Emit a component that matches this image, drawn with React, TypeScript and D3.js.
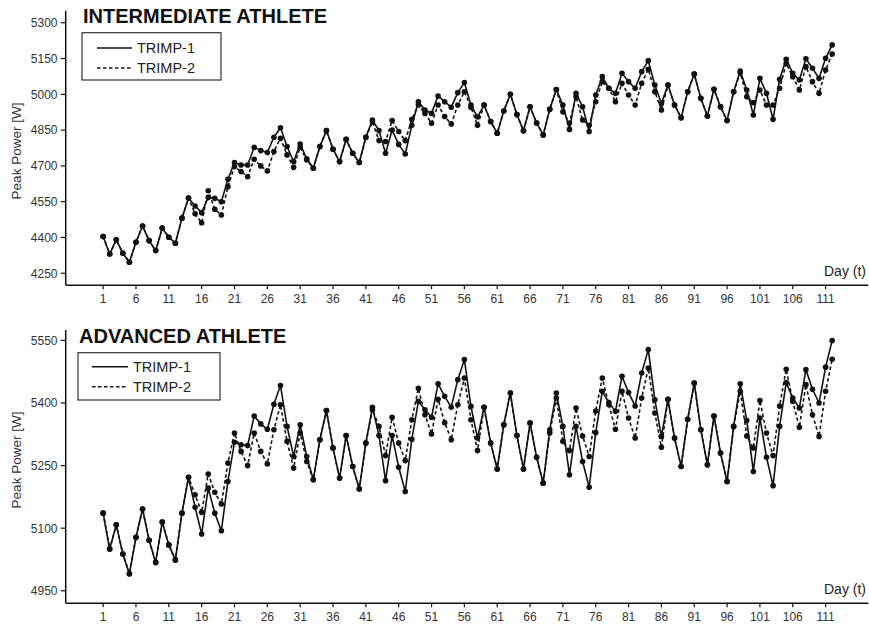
import React from 'react';
import * as d3 from 'd3';

// ---------------- DATA ----------------
const intermediateTrimp1 = [
  4404, 4331, 4390, 4334, 4296, 4380, 4448, 4387, 4345, 4439,
  4401, 4376, 4481, 4565, 4532, 4504, 4568, 4564, 4550, 4644,
  4714, 4704, 4704, 4778, 4764, 4756, 4820, 4860, 4781, 4718,
  4792, 4730, 4690, 4781, 4848, 4770, 4718, 4811, 4753, 4714,
  4820, 4892, 4848, 4753, 4850, 4790, 4750, 4870, 4969, 4934,
  4920, 4993, 4969, 4946, 5007, 5049, 4955, 4905, 4955, 4886,
  4837, 4930, 5000, 4915, 4847, 4948, 4880, 4830, 4937, 5020,
  4955, 4853, 5004, 4948, 4844, 4997, 5074, 5025, 5004, 5088,
  5053, 5025, 5095, 5141, 5039, 4962, 5039, 4955, 4902, 5011,
  5085, 4983, 4909, 5021, 4948, 4890, 5011, 5098, 5018, 4913,
  5067, 5004, 4895, 5063, 5147, 5088, 5060, 5149, 5109, 5067,
  5151, 5207,
];
const intermediateTrimp2 = [
  4404, 4331, 4390, 4334, 4296, 4380, 4448, 4387, 4345, 4439,
  4401, 4376, 4481, 4565, 4499, 4462, 4596, 4518, 4494, 4613,
  4697, 4676, 4655, 4728, 4700, 4679, 4760, 4816, 4746, 4694,
  4778, 4725, 4690, 4781, 4848, 4770, 4718, 4811, 4753, 4714,
  4820, 4885, 4806, 4802, 4890, 4844, 4806, 4895, 4955, 4920,
  4879, 4955, 4907, 4876, 4955, 5011, 4946, 4870, 4955, 4886,
  4837, 4930, 5000, 4915, 4847, 4948, 4880, 4830, 4937, 5020,
  4927, 4880, 4990, 4892, 4870, 4969, 5053, 5025, 4969, 5046,
  4997, 4955, 5046, 5105, 5011, 4934, 5039, 4955, 4902, 5011,
  5085, 4983, 4909, 5021, 4948, 4890, 5011, 5090, 4990, 4965,
  5018, 4955, 4955, 5025, 5130, 5074, 5018, 5116, 5053, 5004,
  5102, 5169,
];
const advancedTrimp1 = [
  5136, 5050, 5108, 5038, 4991, 5078, 5146, 5071, 5018, 5115,
  5060, 5024, 5136, 5222, 5150, 5086, 5196, 5136, 5094, 5212,
  5306, 5300, 5298, 5369, 5350, 5337, 5397, 5442, 5344, 5272,
  5348, 5272, 5216, 5312, 5382, 5292, 5220, 5322, 5248, 5194,
  5304, 5390, 5322, 5214, 5322, 5246, 5188, 5313, 5404, 5384,
  5366, 5446, 5416, 5390, 5456, 5504, 5392, 5316, 5390, 5304,
  5242, 5348, 5424, 5322, 5242, 5352, 5270, 5208, 5336, 5424,
  5344, 5228, 5344, 5260, 5198, 5329, 5428, 5401, 5380, 5464,
  5425, 5393, 5472, 5528, 5408, 5320, 5409, 5316, 5248, 5361,
  5448, 5336, 5252, 5369, 5280, 5212, 5344, 5446, 5358, 5236,
  5364, 5270, 5202, 5344, 5449, 5412, 5388, 5480, 5433, 5400,
  5486, 5550,
];
const advancedTrimp2 = [
  5136, 5050, 5108, 5038, 4991, 5078, 5146, 5071, 5018, 5115,
  5060, 5024, 5136, 5222, 5180, 5138, 5230, 5186, 5158, 5256,
  5328, 5284, 5250, 5328, 5284, 5254, 5336, 5396, 5308, 5244,
  5328, 5260, 5216, 5312, 5382, 5292, 5220, 5322, 5248, 5194,
  5304, 5384, 5344, 5274, 5366, 5304, 5262, 5360, 5435, 5372,
  5326, 5409, 5353, 5312, 5396, 5460, 5360, 5286, 5390, 5304,
  5242, 5348, 5424, 5322, 5242, 5352, 5270, 5208, 5328, 5412,
  5308, 5286, 5388, 5321, 5272, 5381, 5460, 5396, 5337, 5428,
  5364, 5316, 5412, 5484, 5376, 5294, 5409, 5316, 5248, 5361,
  5448, 5336, 5252, 5369, 5280, 5212, 5344, 5428, 5321, 5292,
  5406, 5328, 5274, 5393, 5481, 5404, 5342, 5444, 5372, 5320,
  5428, 5505,
];
const dayTicks = [1, 6, 11, 16, 21, 26, 31, 36, 41, 46, 51, 56, 61, 66, 71, 76, 81, 86, 91, 96, 101, 106, 111];
const intermediateYTicks = [4250, 4400, 4550, 4700, 4850, 5000, 5150, 5300];
const advancedYTicks = [4950, 5100, 5250, 5400, 5550];
const seriesNames = ['TRIMP-1', 'TRIMP-2'];
const panelTitles = ['INTERMEDIATE ATHLETE', 'ADVANCED ATHLETE'];
const xAxisTitle = 'Day (t)';
const yAxisTitle = 'Peak Power [W]';

// ---------------- LAYOUT ----------------
const W = 869;
const H = 628;
const FONT = '"Liberation Sans", Arial, Helvetica, sans-serif';
const AXIS_X = 65.7;
const X_RIGHT = 868.3;

const xScale = d3.scaleLinear().domain([-4.7, 117.5]).range([AXIS_X, X_RIGHT]);

type PanelProps = {
  title: string;
  s1: number[];
  s2: number[];
  yTicks: number[];
  yDomain: [number, number];
  yRange: [number, number];
  titleY: number;
  legend: { x0: number; x1: number; y0: number; y1: number; lx0: number; lx1: number; tx: number; r1: number; r2: number };
  yLabelY: number;
};

function Panel(p: PanelProps) {
  const y = d3.scaleLinear().domain(p.yDomain).range(p.yRange);
  const yBottom = p.yRange[0];
  const yTop = p.yRange[1];
  const line = d3
    .line<number>()
    .x((_, i) => xScale(i + 1))
    .y((v) => y(v));
  return (
    <g>
      <text x={p.legend.x0 + 1} y={p.titleY} fontFamily={FONT} fontWeight="bold" fontSize={20} fill="#111">
        {p.title}
      </text>
      <text
        transform={`translate(21,${p.yLabelY}) rotate(-90)`}
        textAnchor="middle"
        fontFamily={FONT}
        fontSize={13.5}
        fill="#333"
      >
        {yAxisTitle}
      </text>
      <line x1={AXIS_X} x2={AXIS_X} y1={yTop} y2={yBottom} stroke="#111" strokeWidth={1.5} />
      <line x1={AXIS_X} x2={X_RIGHT} y1={yBottom} y2={yBottom} stroke="#111" strokeWidth={1.6} />
      {p.yTicks.map((t) => (
        <g key={t}>
          <line x1={AXIS_X - 5} x2={AXIS_X} y1={y(t)} y2={y(t)} stroke="#111" strokeWidth={1.2} />
          <text x={57.5} y={y(t)} dy="0.36em" textAnchor="end" fontFamily={FONT} fontSize={12} fill="#333">
            {t}
          </text>
        </g>
      ))}
      {dayTicks.map((t) => (
        <g key={t}>
          <line x1={xScale(t)} x2={xScale(t)} y1={yBottom} y2={yBottom + 4} stroke="#111" strokeWidth={1.2} />
          <text x={xScale(t)} y={yBottom + 18} textAnchor="middle" fontFamily={FONT} fontSize={12} fill="#333">
            {t}
          </text>
        </g>
      ))}
      <text x={866} y={yBottom - 9} textAnchor="end" fontFamily={FONT} fontSize={14} fill="#222">
        {xAxisTitle}
      </text>
      <path d={line(p.s2) || ''} fill="none" stroke="#111" strokeWidth={1.6} strokeDasharray="3.5,2.5" />
      <path d={line(p.s1) || ''} fill="none" stroke="#111" strokeWidth={1.6} />
      {p.s2.map((v, i) => (
        <circle key={'b' + i} cx={xScale(i + 1)} cy={y(v)} r={2.8} fill="#111" />
      ))}
      {p.s1.map((v, i) => (
        <circle key={'a' + i} cx={xScale(i + 1)} cy={y(v)} r={2.8} fill="#111" />
      ))}
      <rect
        x={p.legend.x0}
        y={p.legend.y0}
        width={p.legend.x1 - p.legend.x0}
        height={p.legend.y1 - p.legend.y0}
        fill="#fff"
        stroke="#333"
        strokeWidth={1.2}
      />
      <line x1={p.legend.lx0} x2={p.legend.lx1} y1={p.legend.r1} y2={p.legend.r1} stroke="#111" strokeWidth={1.5} />
      <line
        x1={p.legend.lx0}
        x2={p.legend.lx1}
        y1={p.legend.r2}
        y2={p.legend.r2}
        stroke="#111"
        strokeWidth={1.5}
        strokeDasharray="3.5,2.5"
      />
      <text x={p.legend.tx} y={p.legend.r1} dy="0.36em" fontFamily={FONT} fontSize={14.5} fill="#222">
        {seriesNames[0]}
      </text>
      <text x={p.legend.tx} y={p.legend.r2} dy="0.36em" fontFamily={FONT} fontSize={14.5} fill="#222">
        {seriesNames[1]}
      </text>
    </g>
  );
}

export default function App() {
  return (
    <svg
      width={W}
      height={H}
      viewBox={`0 0 ${W} ${H}`}
      style={{ position: 'absolute', left: 0, top: 0, background: '#fff' }}
    >
      <rect x={0} y={0} width={W} height={H} fill="#fff" />
      <Panel
        title={panelTitles[0]}
        s1={intermediateTrimp1}
        s2={intermediateTrimp2}
        yTicks={intermediateYTicks}
        yDomain={[4200, 5350]}
        yRange={[285.2, 10.8]}
        titleY={23}
        legend={{ x0: 82, x1: 221, y0: 32.7, y1: 80, lx0: 97, lx1: 132, tx: 137, r1: 48, r2: 68 }}
        yLabelY={151}
      />
      <Panel
        title={panelTitles[1]}
        s1={advancedTrimp1}
        s2={advancedTrimp2}
        yTicks={advancedYTicks}
        yDomain={[4920, 5575]}
        yRange={[603.3, 330]}
        titleY={343}
        legend={{ x0: 78, x1: 220, y0: 352.7, y1: 400, lx0: 92, lx1: 128, tx: 133, r1: 366.7, r2: 386.7 }}
        yLabelY={460}
      />
    </svg>
  );
}
